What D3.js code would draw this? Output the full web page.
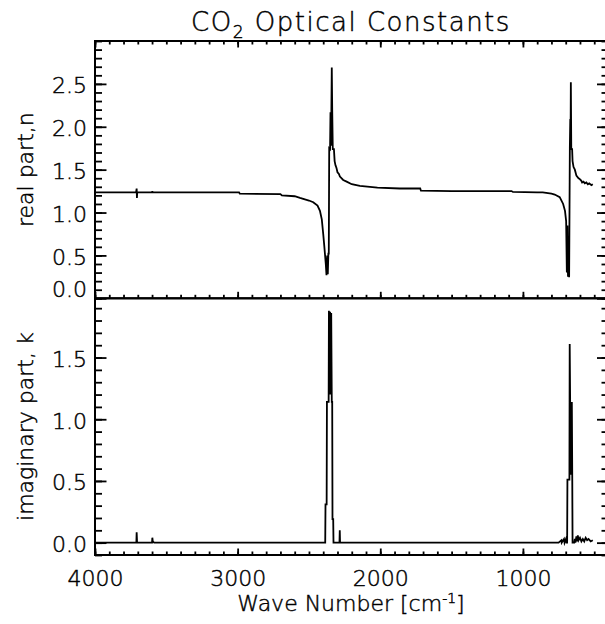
<!DOCTYPE html>
<html>
<head>
<meta charset="utf-8">
<script src="https://cdn.jsdelivr.net/npm/d3@7"></script>
<style>
  body { margin: 0; background: #fff; }
  svg { display: block; }
  text { font-family: "DejaVu Sans", sans-serif; font-weight: 200; fill: #000; stroke: #000; stroke-width: 0.45px; }
</style>
</head>
<body>
<svg width="605" height="624"></svg>
<script>
// values (wave number in cm^-1)
var realWave = [4000, 3712, 3708, 3706, 3704, 3700, 3600, 3598, 3596, 2990,
    2985, 2700, 2690, 2600, 2563, 2500, 2470, 2440, 2423, 2410,
    2400, 2392, 2388, 2382, 2377, 2372, 2368, 2364, 2361, 2358,
    2352, 2349, 2346, 2343, 2340, 2337, 2333, 2325, 2320, 2314,
    2307, 2300, 2290, 2283, 2260, 2236, 2200, 2143, 2020, 1863,
    1720, 1715, 1500, 1080, 1070, 900, 861, 800, 777, 742,
    718, 705, 697, 692, 688, 684, 680, 676, 671, 668,
    666, 664, 661, 655, 652, 645, 636, 625, 610, 601,
    590, 585, 575, 566, 555, 545, 535, 520, 510];
var realN = [1.235, 1.235, 1.28, 1.17, 1.235, 1.235, 1.235, 1.25, 1.235, 1.235,
    1.22, 1.215, 1.20, 1.19, 1.17, 1.14, 1.12, 1.08, 1.02, 0.92,
    0.75, 0.60, 0.52, 0.40, 0.27, 0.50, 0.28, 0.52, 0.52, 1.75,
    1.74, 2.17, 1.78, 2.15, 2.69, 2.20, 1.74, 1.74, 1.60, 1.55,
    1.52, 1.47, 1.45, 1.42, 1.38, 1.36, 1.33, 1.31, 1.29, 1.28,
    1.28, 1.255, 1.25, 1.25, 1.24, 1.235, 1.235, 1.22, 1.21, 1.18,
    1.10, 1.02, 0.90, 0.30, 0.85, 0.25, 0.70, 0.245, 1.75, 2.09,
    1.80, 2.52, 1.74, 1.74, 1.60, 1.53, 1.50, 1.43, 1.40, 1.39,
    1.37, 1.35, 1.36, 1.34, 1.35, 1.33, 1.34, 1.32, 1.33];

var imagWave = [4000, 3710, 3708, 3705, 3600, 3598, 3595, 3585, 2386, 2384,
    2376, 2374, 2362, 2360, 2356, 2352, 2348, 2344, 2340, 2337,
    2335, 2330, 2328, 2286, 2284, 2282, 750, 730, 728, 712,
    708, 698, 694, 690, 688, 674, 672, 669, 666, 663,
    660, 657, 654, 652, 640, 636, 632, 625, 620, 615,
    610, 600, 590, 580, 570, 560, 550, 540, 525, 510];
var imagK = [0, 0, 0.085, 0, 0, 0.04, 0.01, 0, 0, 0.31,
    0.31, 1.14, 1.14, 1.88, 1.2, 1.87, 1.2, 1.86, 1.14, 1.14,
    0.19, 0.19, 0, 0, 0.1, 0, 0, 0.02, 0, 0.03,
    0, 0.03, 0, 0, 0.51, 0.51, 1.61, 1.16, 0.55, 1.1,
    0.6, 1.14, 0.51, 0, 0, 0.03, 0, 0.05, 0.01, 0.06,
    0.02, 0.04, 0.01, 0.03, 0.01, 0.04, 0.02, 0.03, 0.01, 0.02];

var xTicks = [4000, 3000, 2000, 1000];
var realTicks = [0, 0.5, 1.0, 1.5, 2.0, 2.5];
var imagTicks = [0, 0.5, 1.0, 1.5];

var titleText = "CO";
var realLabel = "real part,n";
var imagLabel = "imaginary part, k";

var svg = d3.select("svg");
var left = 95, right = 608.5;
var fontSize = 22;

var x = d3.scaleLinear().domain([4000, 400]).range([left, right]);
var panels = [
    {top: 41, bottom: 298.3, domain: [0, 3], wave: realWave, vals: realN,
        ticks: realTicks, minor: d3.range(0, 31).map(function (i) { return i / 10; }),
        label: realLabel, xLabels: false},
    {top: 298.3, bottom: 555, domain: [-0.1, 1.98], wave: imagWave, vals: imagK,
        ticks: imagTicks, minor: d3.range(-1, 20).map(function (i) { return i / 10; }),
        label: imagLabel, xLabels: true}
];
var xMinor = d3.range(4000, 399, -100);

function styleAxis(g) {
    g.select(".domain").remove();
    g.selectAll(".tick line").attr("stroke", "#000").attr("stroke-width", 1.8);
    g.attr("font-family", null).attr("font-size", null);
    g.selectAll(".tick text").attr("font-size", fontSize);
}

panels.forEach(function (p) {
    var y = d3.scaleLinear().domain(p.domain).range([p.bottom, p.top]);
    var g = svg.append("g");

    // y ticks, left and right, major + minor
    g.append("g").attr("transform", "translate(" + left + ",0)")
        .call(d3.axisLeft(y).tickValues(p.minor).tickSize(-7).tickFormat(""))
        .call(styleAxis);
    g.append("g").attr("transform", "translate(" + right + ",0)")
        .call(d3.axisRight(y).tickValues(p.minor).tickSize(-7).tickFormat(""))
        .call(styleAxis);
    g.append("g").attr("transform", "translate(" + right + ",0)")
        .call(d3.axisRight(y).tickValues(p.ticks).tickSize(-11.5).tickFormat(""))
        .call(styleAxis);
    var yl = g.append("g").attr("transform", "translate(" + left + ",0)")
        .call(d3.axisLeft(y).tickValues(p.ticks).tickSize(-11.5).tickPadding(8)
            .tickFormat(d3.format(".1f")))
        .call(styleAxis);
    yl.selectAll(".tick text").attr("dy", function (d) {
        // IDL lifts the bottom label off the frame corner
        return y(d) > p.bottom - 3 ? "-0.07em" : "0.4em";
    });

    // x ticks: bottom edge of each panel, top edge of the upper one
    g.append("g").attr("transform", "translate(0," + p.bottom + ")")
        .call(d3.axisBottom(x).tickValues(xMinor).tickSize(-3.5).tickFormat(""))
        .call(styleAxis);
    g.append("g").attr("transform", "translate(0," + p.bottom + ")")
        .call(d3.axisBottom(x).tickValues(xTicks).tickSize(-6.5).tickPadding(15.5)
            .tickFormat(p.xLabels ? d3.format("d") : ""))
        .call(styleAxis);
    if (!p.xLabels) {
        g.append("g").attr("transform", "translate(0," + p.top + ")")
            .call(d3.axisTop(x).tickValues(xMinor).tickSize(-3.5).tickFormat(""))
            .call(styleAxis);
        g.append("g").attr("transform", "translate(0," + p.top + ")")
            .call(d3.axisTop(x).tickValues(xTicks).tickSize(-6.5).tickFormat(""))
            .call(styleAxis);
    }

    // frame
    g.append("rect")
        .attr("x", left).attr("y", p.top)
        .attr("width", right - left).attr("height", p.bottom - p.top)
        .attr("fill", "none").attr("stroke", "#000").attr("stroke-width", 2);

    var line = d3.line()
        .x(function (d) { return x(d[0]); })
        .y(function (d) { return y(d[1]); });

    g.append("path")
        .datum(d3.zip(p.wave, p.vals))
        .attr("fill", "none")
        .attr("stroke", "#000")
        .attr("stroke-width", 1.8)
        .attr("stroke-linejoin", "miter")
        .attr("d", line);

    // rotated axis title
    var cy = (p.top + p.bottom) / 2;
    g.append("text")
        .attr("transform", "translate(32.5," + cy + ") rotate(-90)")
        .attr("text-anchor", "middle")
        .attr("font-size", fontSize)
        .text(p.label);
});

// title with subscript
var title = svg.append("text")
    .attr("x", 351).attr("y", 31)
    .attr("text-anchor", "middle")
    .attr("font-size", 26)
    .attr("letter-spacing", 1.5);
title.append("tspan").text(titleText);
title.append("tspan").attr("font-size", 17).attr("dy", 7).text("2");
title.append("tspan").attr("dy", -7).text(" Optical Constants");

// x axis title with superscript
var xt = svg.append("text")
    .attr("x", 351).attr("y", 611)
    .attr("text-anchor", "middle")
    .attr("font-size", fontSize);
xt.append("tspan").text("Wave Number [cm");
xt.append("tspan").attr("font-size", 14).attr("dy", -8).text("-1");
xt.append("tspan").attr("dy", 8).text("]");
</script>
</body>
</html>
